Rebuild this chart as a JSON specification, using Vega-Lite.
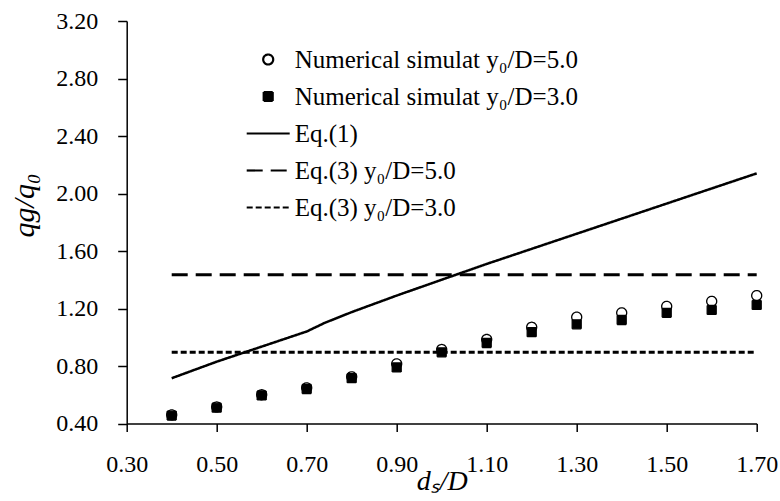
{
  "$schema": "https://vega.github.io/schema/vega-lite/v6.json",
  "autosize": "none",
  "width": 630,
  "height": 402.5,
  "padding": {"left": 126.7, "top": 21, "right": 23.3, "bottom": 77.5},
  "background": "white",
  "config": {
    "view": {"stroke": null},
    "font": "Liberation Serif",
    "axis": {
      "domainColor": "black",
      "domainWidth": 1.5,
      "ticks": true,
      "tickColor": "black",
      "tickWidth": 1.5,
      "grid": false,
      "labelFlush": false,
      "labelOverlap": false,
      "labelFont": "Liberation Serif",
      "labelFontSize": 24,
      "labelColor": "black",
      "titleFont": "Liberation Serif",
      "titleFontStyle": "italic",
      "titleFontWeight": "normal",
      "titleColor": "black"
    }
  },
  "datasets": {
    "sim": [
      {"series": "Numerical simulat y₀/D=5.0", "x": 0.4, "y": 0.46},
      {"series": "Numerical simulat y₀/D=5.0", "x": 0.5, "y": 0.515},
      {"series": "Numerical simulat y₀/D=5.0", "x": 0.6, "y": 0.6},
      {"series": "Numerical simulat y₀/D=5.0", "x": 0.7, "y": 0.648},
      {"series": "Numerical simulat y₀/D=5.0", "x": 0.8, "y": 0.725},
      {"series": "Numerical simulat y₀/D=5.0", "x": 0.9, "y": 0.815},
      {"series": "Numerical simulat y₀/D=5.0", "x": 1.0, "y": 0.915},
      {"series": "Numerical simulat y₀/D=5.0", "x": 1.1, "y": 0.985},
      {"series": "Numerical simulat y₀/D=5.0", "x": 1.2, "y": 1.07},
      {"series": "Numerical simulat y₀/D=5.0", "x": 1.3, "y": 1.14},
      {"series": "Numerical simulat y₀/D=5.0", "x": 1.4, "y": 1.17},
      {"series": "Numerical simulat y₀/D=5.0", "x": 1.5, "y": 1.215},
      {"series": "Numerical simulat y₀/D=5.0", "x": 1.6, "y": 1.25},
      {"series": "Numerical simulat y₀/D=5.0", "x": 1.7, "y": 1.29},
      {"series": "Numerical simulat y₀/D=3.0", "x": 0.4, "y": 0.455},
      {"series": "Numerical simulat y₀/D=3.0", "x": 0.5, "y": 0.51},
      {"series": "Numerical simulat y₀/D=3.0", "x": 0.6, "y": 0.595},
      {"series": "Numerical simulat y₀/D=3.0", "x": 0.7, "y": 0.64},
      {"series": "Numerical simulat y₀/D=3.0", "x": 0.8, "y": 0.715},
      {"series": "Numerical simulat y₀/D=3.0", "x": 0.9, "y": 0.79},
      {"series": "Numerical simulat y₀/D=3.0", "x": 1.0, "y": 0.895},
      {"series": "Numerical simulat y₀/D=3.0", "x": 1.1, "y": 0.96},
      {"series": "Numerical simulat y₀/D=3.0", "x": 1.2, "y": 1.035},
      {"series": "Numerical simulat y₀/D=3.0", "x": 1.3, "y": 1.09},
      {"series": "Numerical simulat y₀/D=3.0", "x": 1.4, "y": 1.12},
      {"series": "Numerical simulat y₀/D=3.0", "x": 1.5, "y": 1.17},
      {"series": "Numerical simulat y₀/D=3.0", "x": 1.6, "y": 1.19},
      {"series": "Numerical simulat y₀/D=3.0", "x": 1.7, "y": 1.225}
    ],
    "eq1": [
      {"series": "Eq.(1)", "x": 0.4, "y": 0.715},
      {"series": "Eq.(1)", "x": 0.5, "y": 0.83},
      {"series": "Eq.(1)", "x": 0.6, "y": 0.935},
      {"series": "Eq.(1)", "x": 0.7, "y": 1.04},
      {"series": "Eq.(1)", "x": 0.74, "y": 1.1},
      {"series": "Eq.(1)", "x": 0.8, "y": 1.175},
      {"series": "Eq.(1)", "x": 0.9, "y": 1.29},
      {"series": "Eq.(1)", "x": 1.0, "y": 1.4},
      {"series": "Eq.(1)", "x": 1.1, "y": 1.51},
      {"series": "Eq.(1)", "x": 1.2, "y": 1.615},
      {"series": "Eq.(1)", "x": 1.3, "y": 1.72},
      {"series": "Eq.(1)", "x": 1.4, "y": 1.825},
      {"series": "Eq.(1)", "x": 1.5, "y": 1.93},
      {"series": "Eq.(1)", "x": 1.6, "y": 2.035},
      {"series": "Eq.(1)", "x": 1.7, "y": 2.14}
    ],
    "eq3": [
      {"series": "Eq.(3)  y₀/D=5.0", "x": 0.4, "y": 1.435},
      {"series": "Eq.(3)  y₀/D=5.0", "x": 1.7, "y": 1.435},
      {"series": "Eq.(3)  y₀/D=3.0", "x": 0.4, "y": 0.895},
      {"series": "Eq.(3)  y₀/D=3.0", "x": 1.7, "y": 0.895}
    ]
  },
  "encoding": {
    "x": {
      "field": "x", "type": "quantitative",
      "scale": {"domain": [0.3, 1.7], "nice": false, "zero": false},
      "axis": {
        "values": [0.3, 0.5, 0.7, 0.9, 1.1, 1.3, 1.5, 1.7],
        "format": ".2f",
        "tickSize": 8,
        "labelPadding": 21,
        "encode": {"ticks": {"update": {"y2": {"value": -8}}}},
        "title": "dₛ/D",
        "titleFontSize": 28,
        "titleBaseline": "top",
        "titleY": 44
      }
    },
    "y": {
      "field": "y", "type": "quantitative",
      "scale": {"domain": [0.4, 3.2], "nice": false, "zero": false},
      "axis": {
        "values": [0.4, 0.8, 1.2, 1.6, 2.0, 2.4, 2.8, 3.2],
        "format": ".2f",
        "tickSize": 9,
        "labelPadding": 20,
        "encode": {"ticks": {"update": {"x2": {"value": 9}}}},
        "title": "qg/q₀",
        "titleFontSize": 30,
        "titleAngle": -90,
        "titleAlign": "center",
        "titleBaseline": "middle",
        "titleX": -102,
        "titleY": 184
      }
    }
  },
  "layer": [
    {
      "data": {"name": "eq1"},
      "mark": {"type": "line", "color": "black", "strokeWidth": 2.5},
      "encoding": {
        "strokeDash": {"field": "series", "type": "nominal"}
      }
    },
    {
      "data": {"name": "eq3"},
      "mark": {"type": "line", "color": "black", "strokeWidth": 3},
      "encoding": {
        "strokeDash": {"field": "series", "type": "nominal"}
      }
    },
    {
      "data": {"name": "sim"},
      "mark": {"type": "point", "stroke": "black", "opacity": 1, "strokeWidth": 1.3, "size": 100},
      "encoding": {
        "shape": {
          "field": "series", "type": "nominal",
          "scale": {
            "domain": ["Numerical simulat y₀/D=5.0", "Numerical simulat y₀/D=3.0", "Eq.(1)", "Eq.(3)  y₀/D=5.0", "Eq.(3)  y₀/D=3.0"],
            "range": ["circle", "M-0.9,-0.9H0.9V0.9H-0.9Z", "M-4.3,0H4.3", "M-4.3,0H4.3", "M-4.3,0H4.3"]
          },
          "legend": {
            "orient": "none",
            "legendX": 129,
            "legendY": 26,
            "title": null,
            "padding": 0,
            "labelFont": "Liberation Serif",
            "labelFontSize": 25,
            "labelColor": "black",
            "labelOffset": 14,
            "labelLimit": 400,
            "rowPadding": 11,
            "symbolSize": 100,
            "symbolStrokeWidth": 2.2
          }
        },
        "fill": {
          "field": "series", "type": "nominal",
          "scale": {
            "domain": ["Numerical simulat y₀/D=5.0", "Numerical simulat y₀/D=3.0", "Eq.(1)", "Eq.(3)  y₀/D=5.0", "Eq.(3)  y₀/D=3.0"],
            "range": ["white", "black", "transparent", "transparent", "transparent"]
          }
        },
        "strokeDash": {
          "field": "series", "type": "nominal",
          "scale": {
            "domain": ["Numerical simulat y₀/D=5.0", "Numerical simulat y₀/D=3.0", "Eq.(1)", "Eq.(3)  y₀/D=5.0", "Eq.(3)  y₀/D=3.0"],
            "range": [[1, 0], [1, 0], [1, 0], [16, 8], [6, 3]]
          }
        }
      }
    }
  ]
}
